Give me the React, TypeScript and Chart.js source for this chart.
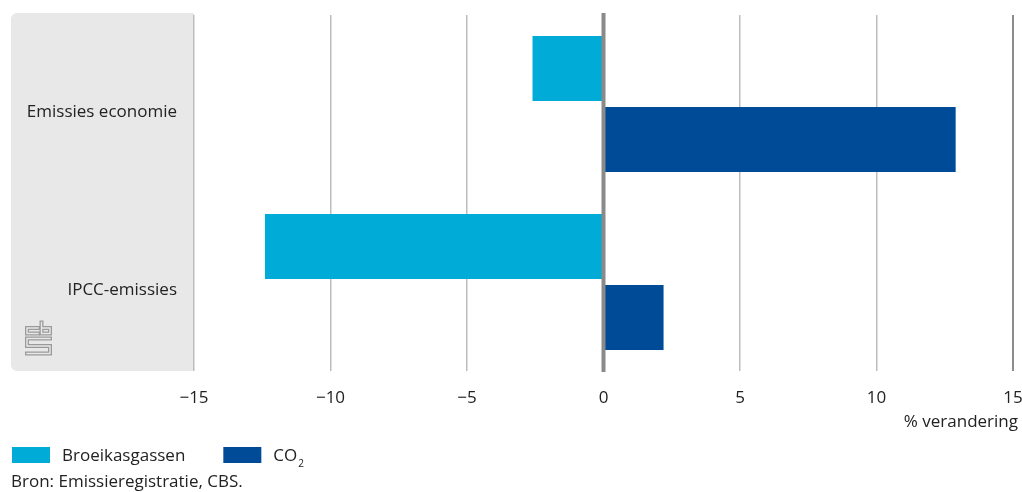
import React, { useEffect, useRef } from 'react';
import { Chart, registerables } from 'chart.js';

Chart.register(...registerables);

const categories = ['Emissies economie', 'IPCC-emissies'];
const broeikasgassen = [-2.6, -12.4];
const co2 = [12.9, 2.2];
const seriesLabels = ['Broeikasgassen', 'CO2'];
const seriesColors = ['#00abd8', '#004b98'];
const xTicks = [-15, -10, -5, 0, 5, 10, 15];
const axisTitle = '% verandering';
const sourceText = 'Bron: Emissieregistratie, CBS.';

const FONT = "'Open Sans', sans-serif";
const TEXT = '#222222';
const FS = 17;

const decor = {
  id: 'decor',
  beforeDraw(chart: any) {
    const { ctx, chartArea } = chart;
    ctx.save();
    ctx.fillStyle = '#e8e8e8';
    ctx.beginPath();
    ctx.roundRect(11, 13, chartArea.left - 11, chartArea.bottom - 13, [6, 0, 0, 6]);
    ctx.fill();
    // CBS logo (outlined strokes)
    const paths = [
      [[38, 328], [27, 328], [27, 333.5], [38, 333.5]],
      [[41.5, 322.5], [41.5, 333.5], [50, 333.5], [50, 328], [41.5, 328]],
      [[50, 338.5], [27, 338.5], [27, 346], [50, 346], [50, 353.5], [27, 353.5]],
    ];
    const strokePaths = (w: number, c: string) => {
      ctx.lineWidth = w;
      ctx.strokeStyle = c;
      ctx.lineJoin = 'miter';
      ctx.lineCap = 'square';
      for (const p of paths) {
        ctx.beginPath();
        p.forEach(([x, y], i) => (i ? ctx.lineTo(x, y) : ctx.moveTo(x, y)));
        ctx.stroke();
      }
    };
    strokePaths(4, '#9a9a9a');
    ctx.lineCap = 'butt';
    strokePaths(1.4, '#e8e8e8');
    ctx.restore();
  },
  afterDatasetsDraw(chart: any) {
    const { ctx, chartArea, scales } = chart;
    const x = scales.x.getPixelForValue(0);
    ctx.save();
    ctx.strokeStyle = '#8a8a8a';
    ctx.lineWidth = 4;
    ctx.beginPath();
    ctx.moveTo(x, chartArea.top - 2);
    ctx.lineTo(x, chartArea.bottom + 1);
    ctx.stroke();
    ctx.restore();
  },
  afterDraw(chart: any) {
    const { ctx, chartArea } = chart;
    ctx.save();
    ctx.font = `${FS}px ${FONT}`;
    ctx.fillStyle = TEXT;
    ctx.textBaseline = 'middle';
    // axis title
    ctx.textAlign = 'right';
    ctx.fillText(axisTitle, chartArea.right + 5, 422);
    ctx.textAlign = 'left';
    let x = 12;
    const yMid = 456;
    chart.data.datasets.forEach((ds: any) => {
      ctx.fillStyle = ds.backgroundColor;
      ctx.fillRect(x, 447, 38, 16);
      ctx.fillStyle = TEXT;
      const tx = x + 50;
      const label: string = ds.label;
      if (label === 'CO2') {
        ctx.font = `${FS}px ${FONT}`;
        ctx.fillText('CO', tx, yMid);
        const w = ctx.measureText('CO').width;
        ctx.font = `${Math.round(FS * 0.6)}px ${FONT}`;
        ctx.fillText('2', tx + w + 1, yMid + 8);
        ctx.font = `${FS}px ${FONT}`;
        x = tx + w + 40;
      } else {
        ctx.fillText(label, tx, yMid);
        x = tx + ctx.measureText(label).width + 38;
      }
    });
    ctx.fillStyle = TEXT;
    ctx.font = `${FS}px ${FONT}`;
    ctx.fillText(sourceText, 11, 482);
    ctx.restore();
  },
};

export default function App() {
  const ref = useRef<HTMLCanvasElement | null>(null);
  useEffect(() => {
    if (!ref.current) return;
    const chart = new Chart(ref.current, {
      type: 'bar',
      data: {
        labels: categories,
        datasets: [
          { label: seriesLabels[0], data: broeikasgassen, backgroundColor: seriesColors[0] },
          { label: seriesLabels[1], data: co2, backgroundColor: seriesColors[1] },
        ],
      },
      options: {
        indexAxis: 'y',
        responsive: false,
        animation: false,
        devicePixelRatio: 1,
        categoryPercentage: 0.798,
        barPercentage: 0.915,
        layout: { autoPadding: false, padding: { top: 15, right: 9, left: 0, bottom: 59 } },
        plugins: { legend: { display: false }, tooltip: { enabled: false } },
        scales: {
          x: {
            min: -15,
            max: 15,
            afterBuildTicks: (s: any) => {
              s.ticks = xTicks.map((v) => ({ value: v }));
            },
            afterFit: (s: any) => {
              s.height = 62;
              s.paddingLeft = 0;
              s.paddingRight = 0;
              s.paddingTop = 0;
              s.paddingBottom = 0;
            },
            ticks: {
              callback: (v: any) => (v < 0 ? '\u2212' + Math.abs(v) : String(v)),
              font: { family: FONT, size: FS },
              color: TEXT,
              padding: 17,
              maxRotation: 0,
            },
            grid: {
              drawTicks: false,
              color: (c: any) =>
                c.tick && c.tick.value === 15 ? '#8c8c8c' : c.tick && c.tick.value === 0 ? 'rgba(0,0,0,0)' : '#bdbdbd',
              lineWidth: (c: any) => (c.tick && c.tick.value === 15 ? 2 : 1.5),
            },
            border: { display: false },
            title: { display: false },
          },
          y: {
            afterFit: (s: any) => {
              s.width = 194;
              s.paddingLeft = 0;
              s.paddingRight = 0;
              s.paddingTop = 0;
              s.paddingBottom = 0;
            },
            ticks: {
              font: { family: FONT, size: FS },
              color: TEXT,
              padding: 17,
              labelOffset: 8,
            },
            grid: { display: false, drawTicks: false },
            border: { display: false },
          },
        },
      },
      plugins: [decor],
    });
    return () => chart.destroy();
  }, []);
  return (
    <div style={{ position: 'absolute', left: 0, top: 0, width: 1022, height: 492 }}>
      <canvas ref={ref} width={1022} height={492} />
    </div>
  );
}
